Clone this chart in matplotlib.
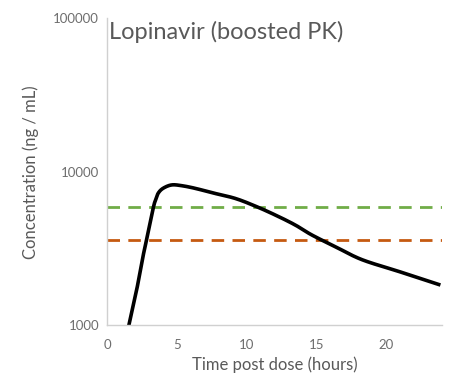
import numpy as np
import matplotlib.pyplot as plt

# Lopinavir boosted PK curve
time_h = [1.54, 2.1, 2.55, 2.81, 3.29, 3.46, 3.65, 4.0, 4.61, 5.33, 6.28, 7.48,
          9.15, 10.59, 12.02, 13.46, 14.66, 16.5, 18.3, 21.0, 23.9]
conc = [1000, 1700, 2790, 3600, 5800, 6550, 7250, 7800, 8200, 8110, 7800, 7310,
        6710, 5985, 5240, 4510, 3880, 3200, 2670, 2230, 1830]
target_high = 5850
target_low = 3600

x_ticks = [0, 5, 10, 15, 20]
y_ticks = [1000, 10000, 100000]


def smooth(xs, ys, n=20):
    # Catmull-Rom through the points, done in log space (like Excel's smoothed line)
    p = np.column_stack([xs, np.log10(ys)])
    p = np.vstack([2 * p[0] - p[1], p, 2 * p[-1] - p[-2]])
    out = []
    for i in range(1, len(p) - 2):
        p0, p1, p2, p3 = p[i - 1], p[i], p[i + 1], p[i + 2]
        for t in np.linspace(0, 1, n, endpoint=False):
            out.append(0.5 * (2 * p1 + (-p0 + p2) * t
                              + (2 * p0 - 5 * p1 + 4 * p2 - p3) * t ** 2
                              + (-p0 + 3 * p1 - 3 * p2 + p3) * t ** 3))
    out.append(p[-2])
    out = np.array(out)
    return out[:, 0], 10 ** out[:, 1]


plt.rcParams['font.family'] = ['Lato', 'DejaVu Sans']
grey = '#595959'

fig = plt.figure(figsize=(4.55, 3.92), dpi=100)
ax = fig.add_axes([0.236, 0.17, 0.735, 0.784])

ax.axhline(target_high, color='#70AD47', lw=2.0, ls=(0, (4.5, 3)))
ax.axhline(target_low, color='#C55A11', lw=2.0, ls=(0, (4.5, 3)))
sx, sy = smooth(time_h, conc)
ax.plot(sx, sy, color='black', lw=2.6, solid_capstyle='butt')

ax.set_yscale('log')
ax.set_xlim(0, 24)
ax.set_ylim(1000, 100000)
ax.set_xticks(x_ticks)
ax.set_yticks(y_ticks)
ax.set_yticklabels([str(v) for v in y_ticks])
ax.minorticks_off()
ax.tick_params(length=0, colors='#6e6e6e', labelsize=9.5, pad=6)
ax.tick_params(axis='x', pad=10)

for s in ['top', 'right']:
    ax.spines[s].set_visible(False)
for s in ['left', 'bottom']:
    ax.spines[s].set_color('#d0d0d0')
    ax.spines[s].set_linewidth(1.0)

ax.set_xlabel('Time post dose (hours)', color=grey, fontsize=12, labelpad=4)
ax.set_ylabel('Concentration (ng / mL)', color=grey, fontsize=12, labelpad=10)
ax.text(0.005, 0.99, 'Lopinavir (boosted PK)', transform=ax.transAxes,
        ha='left', va='top', fontsize=17, color=grey)

fig.savefig('out.png', dpi=100)
